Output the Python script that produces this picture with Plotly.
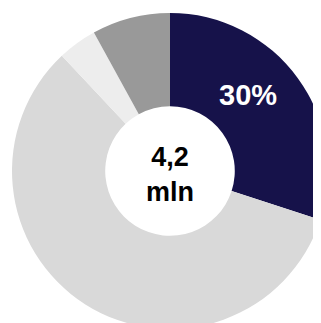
import plotly.graph_objects as go

labels = ["A", "B", "C", "D"]
values = [30, 58, 4, 8]
colors = ["#16124A", "#D9D9D9", "#EDEDED", "#999999"]
slice_text = ["30%", "", "", ""]
center_text = "4,2<br>mln"

fig = go.Figure(go.Pie(
    labels=labels,
    values=values,
    sort=False,
    direction="clockwise",
    rotation=0,
    hole=0.41,
    marker=dict(colors=colors, line=dict(width=0)),
    text=slice_text,
    textinfo="none",
    hoverinfo="skip",
    showlegend=False,
))

fig.add_annotation(x=248, y=95, xref="x", yref="y", text="<b>" + slice_text[0] + "</b>",
                   showarrow=False, font=dict(family="Liberation Sans, Arial", size=29, color="white"))
fig.add_annotation(x=170, y=174, xref="x", yref="y", text="<b>" + center_text + "</b>",
                   showarrow=False, font=dict(family="Liberation Sans, Arial", size=27, color="black"))

fig.update_layout(
    width=330, height=330,
    margin=dict(l=4, t=5, r=10, b=9),
    paper_bgcolor="white", plot_bgcolor="rgba(0,0,0,0)",
    xaxis=dict(range=[12, 328], visible=False, domain=[0, 1]),
    yaxis=dict(range=[329, 13], visible=False, domain=[0, 1]),
)
fig.write_html("out.html")
